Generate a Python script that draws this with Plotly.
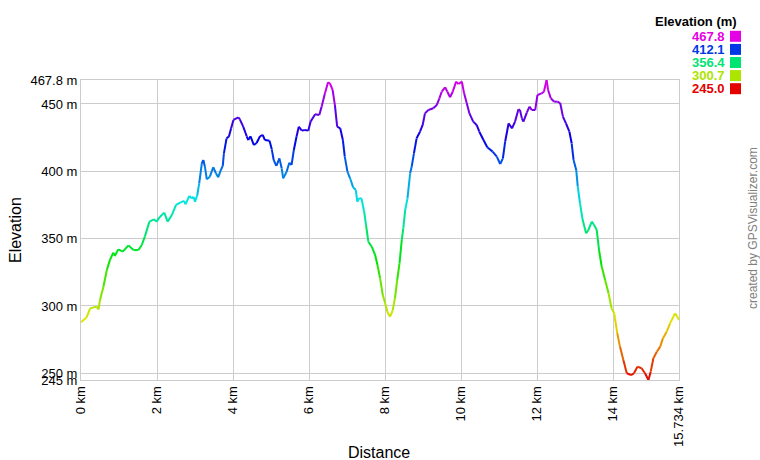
import colorsys
import plotly.graph_objects as go

# ---- data ----
distance_km = [
    0.00, 0.15, 0.24, 0.41, 0.46, 0.50, 0.59, 0.68, 0.76, 0.85, 0.89, 0.98, 1.10, 1.25, 1.38,
    1.51, 1.60, 1.68, 1.80, 1.92, 1.99, 2.08, 2.19, 2.28, 2.39, 2.50, 2.61, 2.71, 2.75, 2.85,
    2.91, 2.96, 3.00, 3.06, 3.11, 3.18, 3.22, 3.26, 3.31, 3.39, 3.48, 3.55, 3.61, 3.68, 3.73,
    3.76, 3.83, 3.89, 3.95, 4.01, 4.14, 4.18, 4.27, 4.36, 4.40, 4.46, 4.55, 4.62, 4.71, 4.78,
    4.84, 4.96, 5.02, 5.07, 5.14, 5.22, 5.28, 5.32, 5.41, 5.48, 5.54, 5.60, 5.67, 5.73, 5.81,
    5.89, 5.98, 6.04, 6.16, 6.27, 6.33, 6.42, 6.50, 6.55, 6.62, 6.68, 6.74, 6.82, 6.89, 6.94,
    7.01, 7.08, 7.16, 7.23, 7.27, 7.32, 7.38, 7.45, 7.50, 7.56, 7.65, 7.74, 7.80, 7.87, 7.94,
    8.00, 8.06, 8.13, 8.20, 8.26, 8.32, 8.38, 8.44, 8.48, 8.53, 8.59, 8.66, 8.70, 8.76, 8.83,
    8.92, 8.99, 9.05, 9.14, 9.27, 9.36, 9.43, 9.49, 9.58, 9.64, 9.71, 9.78, 9.87, 9.93, 10.02,
    10.08, 10.15, 10.22, 10.32, 10.41, 10.48, 10.59, 10.69, 10.83, 10.94, 11.03, 11.10, 11.16, 11.25, 11.34,
    11.42, 11.51, 11.55, 11.60, 11.64, 11.73, 11.80, 11.86, 11.95, 12.01, 12.12, 12.18, 12.25, 12.29, 12.36,
    12.45, 12.54, 12.61, 12.68, 12.76, 12.85, 12.91, 12.96, 13.03, 13.07, 13.13, 13.20, 13.29, 13.35, 13.44,
    13.50, 13.57, 13.63, 13.70, 13.79, 13.88, 13.96, 14.03, 14.05, 14.11, 14.18, 14.27, 14.36, 14.47, 14.55,
    14.64, 14.75, 14.84, 14.93, 14.99, 15.06, 15.15, 15.24, 15.31, 15.41, 15.50, 15.63, 15.69, 15.734,
]
elevation_m = [
    287.8, 291.6, 298.2, 299.5, 297.5, 304.4, 314.3, 326.7, 334.0, 339.6, 337.1, 342.0, 340.3, 345.0, 341.5,
    341.5, 345.3, 351.5, 362.6, 364.3, 362.6, 366.3, 369.3, 362.6, 367.5, 375.0, 376.7, 378.0, 375.5, 381.7,
    379.9, 381.0, 377.4, 382.4, 391.0, 406.0, 408.4, 403.4, 394.0, 396.0, 403.0, 398.5, 395.5, 401.0, 404.0,
    413.3, 424.5, 425.7, 431.9, 438.1, 440.1, 438.6, 433.0, 426.0, 423.2, 426.0, 419.5, 421.0, 426.0, 427.0,
    423.2, 422.7, 416.3, 408.4, 404.0, 409.6, 402.2, 394.8, 399.7, 406.4, 404.7, 415.8, 425.7, 433.1, 430.2,
    430.7, 430.2, 436.9, 442.3, 441.8, 448.0, 457.9, 466.1, 465.3, 460.4, 449.2, 433.1, 431.9, 423.2, 410.9,
    399.7, 394.8, 388.1, 386.1, 377.4, 379.9, 379.9, 370.0, 360.1, 347.7, 344.0, 337.8, 330.4, 320.5, 308.1,
    302.4, 295.7, 292.0, 296.5, 305.7, 319.3, 331.6, 349.0, 357.6, 371.3, 379.9, 398.5, 403.4, 413.3, 424.5,
    429.4, 434.4, 443.0, 445.5, 446.8, 449.2, 454.2, 459.1, 462.4, 459.1, 455.0, 459.1, 466.6, 464.8, 466.6,
    457.9, 450.5, 443.0, 436.9, 434.4, 429.4, 423.2, 417.8, 414.6, 410.9, 405.4, 409.6, 422.0, 435.6, 431.9,
    436.9, 446.0, 445.5, 439.3, 436.9, 443.5, 448.0, 445.5, 445.5, 456.7, 457.9, 459.1, 467.8, 460.4, 454.2,
    451.7, 451.7, 450.5, 440.6, 435.6, 429.4, 420.8, 408.4, 401.0, 388.6, 376.2, 363.8, 353.9, 356.4, 362.6,
    360.1, 356.4, 341.5, 329.2, 319.3, 309.4, 298.2, 294.5, 290.8, 279.7, 269.8, 259.9, 250.0, 248.7, 250.0,
    254.9, 253.7, 250.0, 245.0, 251.2, 261.1, 266.0, 269.8, 275.9, 280.9, 287.1, 294.5, 292.0, 289.6,
]

y_tick_vals = [245, 250, 300, 350, 400, 450, 467.8]
y_tick_text = ["245 m", "250 m", "300 m", "350 m", "400 m", "450 m", "467.8 m"]
x_tick_vals = [0, 2, 4, 6, 8, 10, 12, 14, 15.734]
x_tick_text = ["0 km", "2 km", "4 km", "6 km", "8 km", "10 km", "12 km", "14 km", "15.734 km"]
legend_values = [467.8, 412.1, 356.4, 300.7, 245.0]
legend_labels = ["467.8", "412.1", "356.4", "300.7", "245.0"]

E_MIN, E_MAX = 245.0, 467.8
X_MAX = 15.734
FONT = "Arial, Liberation Sans, sans-serif"


def elev_color(e):
    t = min(max((e - E_MIN) / (E_MAX - E_MIN), 0), 1)
    r, g, b = colorsys.hsv_to_rgb(300.0 * t / 360.0, 1.0, 0.9)
    return f"rgb({int(r * 255)},{int(g * 255)},{int(b * 255)})"


fig = go.Figure()
for i in range(len(distance_km) - 1):
    e_mid = (elevation_m[i] + elevation_m[i + 1]) / 2
    fig.add_trace(go.Scatter(
        x=distance_km[i:i + 2], y=elevation_m[i:i + 2], mode="lines",
        line=dict(color=elev_color(e_mid), width=2),
        showlegend=False, hoverinfo="skip",
    ))

# plot area in page pixels (body margin removed below)
L, R, T, B = 81, 679, 80, 380
PW, PH = R - L, B - T
FIG_W, FIG_H = 760, 460


def px_x(px):
    return (px - L) / PW


def px_y(py):
    return (B - py) / PH


annotations = [
    dict(text="Elevation (m)", x=px_x(739), y=px_y(22), xref="paper", yref="paper",
         xanchor="right", yanchor="middle", showarrow=False,
         font=dict(family=FONT, size=13, color="#000000", weight="bold")),
    dict(text="Elevation", x=px_x(15), y=px_y(230), xref="paper", yref="paper",
         xanchor="center", yanchor="middle", showarrow=False, textangle=-90,
         font=dict(family=FONT, size=16, color="#000000")),
    dict(text="Distance", x=px_x(379), y=px_y(452), xref="paper", yref="paper",
         xanchor="center", yanchor="middle", showarrow=False,
         font=dict(family=FONT, size=16, color="#000000")),
    dict(text="created by GPSVisualizer.com", x=px_x(753), y=px_y(228), xref="paper", yref="paper",
         xanchor="center", yanchor="middle", showarrow=False, textangle=-90,
         font=dict(family=FONT, size=12, color="#808080")),
]
shapes = []
for k, (v, lab) in enumerate(zip(legend_values, legend_labels)):
    cy = 36.3 + 13.1 * k
    col = elev_color(v)
    annotations.append(dict(text=lab, x=px_x(727), y=px_y(cy), xref="paper", yref="paper",
                            xanchor="right", yanchor="middle", showarrow=False,
                            font=dict(family=FONT, size=13, color=col, weight="bold")))
    shapes.append(dict(type="rect", xref="paper", yref="paper",
                       x0=px_x(730), x1=px_x(741), y0=px_y(cy + 5.5), y1=px_y(cy - 5.5),
                       fillcolor=col, line=dict(width=0)))

fig.update_layout(
    width=FIG_W, height=FIG_H,
    margin=dict(l=L, r=FIG_W - R, t=T, b=FIG_H - B),
    paper_bgcolor="#ffffff", plot_bgcolor="#ffffff",
    font=dict(family=FONT, size=13, color="#000000"),
    annotations=annotations, shapes=shapes,
    showlegend=False, hovermode=False,
)
fig.update_xaxes(
    range=[0, X_MAX], tickmode="array", tickvals=x_tick_vals, ticktext=x_tick_text,
    tickangle=-90, showgrid=True, gridcolor="#cccccc", gridwidth=1,
    showline=True, mirror=True, linecolor="#cccccc", linewidth=1,
    zeroline=False, ticks="", tickfont=dict(family=FONT, size=13, color="#000000"),
)
fig.update_yaxes(
    range=[E_MIN, E_MAX], tickmode="array", tickvals=y_tick_vals, ticktext=y_tick_text,
    showgrid=True, gridcolor="#cccccc", gridwidth=1,
    showline=True, mirror=True, linecolor="#cccccc", linewidth=1,
    zeroline=False, ticks="", tickfont=dict(family=FONT, size=13, color="#000000"),
)

fig.write_html(
    "out.html",
    config={"displayModeBar": False, "staticPlot": True},
    post_script="document.body.style.margin='0';document.body.style.overflow='hidden';",
)
